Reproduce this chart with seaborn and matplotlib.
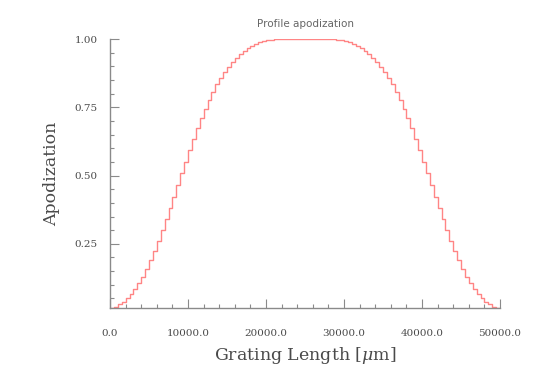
import numpy as np
import pandas as pd
import matplotlib
matplotlib.use('Agg')
import matplotlib.pyplot as plt
from matplotlib.ticker import MultipleLocator, FormatStrFormatter
import seaborn as sns

# Perfil de apodização (degraus de 500 um)
seg_inicio = np.arange(0, 50000, 500)
subida = [0.015, 0.020, 0.028, 0.038, 0.050, 0.065, 0.083, 0.105, 0.130, 0.158,
          0.190, 0.225, 0.262, 0.300, 0.340, 0.382, 0.423, 0.466, 0.508, 0.551,
          0.593, 0.635, 0.673, 0.710, 0.745, 0.777, 0.807, 0.834, 0.858, 0.880,
          0.898, 0.915, 0.931, 0.945, 0.957, 0.967, 0.976, 0.983, 0.989, 0.993,
          0.996, 0.998, 0.999, 1.000, 1.000, 1.000, 1.000, 1.000, 1.000, 1.000]
descida = [1.000, 1.000, 1.000, 1.000, 1.000, 1.000, 1.000, 0.999, 0.998, 0.996,
           0.993, 0.989, 0.983, 0.976, 0.967, 0.957, 0.945, 0.931, 0.915, 0.898,
           0.880, 0.858, 0.834, 0.807, 0.777, 0.745, 0.710, 0.673, 0.635, 0.593,
           0.551, 0.508, 0.466, 0.423, 0.382, 0.340, 0.300, 0.262, 0.225, 0.190,
           0.158, 0.130, 0.105, 0.083, 0.065, 0.050, 0.038, 0.028, 0.020, 0.015]
apod = subida + descida

# Fecha o último degrau em 50000
df = pd.DataFrame({'x': list(seg_inicio) + [50000], 'apod': apod + [apod[-1]]})

sns.set_style('ticks')
plt.rcParams['font.family'] = ['DejaVu Serif']
plt.rcParams['mathtext.fontset'] = 'dejavuserif'

cinza = '#8a8a8a'
texto = '#4a4a4a'

fig = plt.figure(figsize=(5.54, 3.85), dpi=100)
ax = fig.add_axes([0.1986, 0.2, 0.704, 0.6987])

sns.lineplot(data=df, x='x', y='apod', ax=ax, drawstyle='steps-post',
             color='#ff8585', linewidth=1.0)

ax.set_xlim(0, 50000)
ax.set_ylim(min(apod), 1.0)

ax.xaxis.set_major_locator(MultipleLocator(10000))
ax.xaxis.set_minor_locator(MultipleLocator(2000))
ax.yaxis.set_major_locator(MultipleLocator(0.25))
ax.yaxis.set_minor_locator(MultipleLocator(0.05))
ax.xaxis.set_major_formatter(FormatStrFormatter('%.1f'))
ax.yaxis.set_major_formatter(FormatStrFormatter('%.2f'))

sns.despine(ax=ax)
for s in ['left', 'bottom']:
    ax.spines[s].set_color(cinza)
    ax.spines[s].set_linewidth(1.0)

ax.tick_params(axis='both', which='major', direction='in', length=6.5, width=0.8,
               color=cinza, labelsize=7.5, labelcolor=texto)
ax.tick_params(axis='both', which='minor', direction='in', length=3, width=0.8,
               color=cinza)
ax.tick_params(axis='x', which='major', pad=15)
ax.tick_params(axis='y', which='major', pad=9)

ax.set_xlabel(r'Grating Length [$\mu$m]', fontsize=12.5, color=texto, labelpad=5)
ax.set_ylabel('Apodization', fontsize=12.5, color=texto, labelpad=10)
ax.set_title('Profile apodization', fontsize=7.5, color='#666666',
             family='DejaVu Sans', pad=9)

fig.savefig('out.png', dpi=100)
